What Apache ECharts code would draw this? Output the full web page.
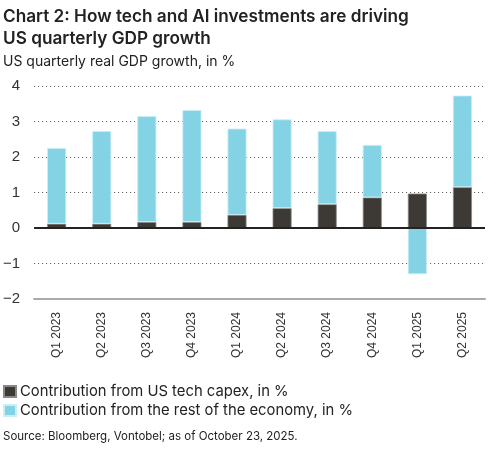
<!DOCTYPE html>
<html>
<head>
<meta charset="utf-8">
<script src="https://cdn.jsdelivr.net/npm/echarts@6/dist/echarts.min.js"></script>
<style>
  html, body { margin: 0; padding: 0; background: #fff; }
  #chart { width: 489px; height: 465px; }
</style>
</head>
<body>
<div id="chart"></div>
<script>
var quarters = ['Q1 2023', 'Q2 2023', 'Q3 2023', 'Q4 2023', 'Q1 2024', 'Q2 2024', 'Q3 2024', 'Q4 2024', 'Q1 2025', 'Q2 2025'];
var techCapex = [0.12, 0.12, 0.17, 0.17, 0.37, 0.56, 0.67, 0.86, 0.97, 1.15];
var restOfEconomy = [2.13, 2.61, 2.98, 3.15, 2.43, 2.50, 2.06, 1.48, -1.30, 2.58];
var yTicks = [-2, -1, 0, 1, 2, 3, 4];

var chart = echarts.init(document.getElementById('chart'));

var textFont = 'Liberation Sans';

var option = {
    animation: false,
    title: [{
        text: 'Chart 2: How tech and AI investments are driving\nUS quarterly GDP growth',
        left: -2,
        top: 1,
        textStyle: { fontFamily: 'Inter', fontWeight: 600, fontSize: 17.2, lineHeight: 22, color: '#222' }
    }, {
        text: 'US quarterly real GDP growth, in %',
        left: -2,
        top: 50,
        textStyle: { fontFamily: 'Inter', fontWeight: 400, fontSize: 14, color: '#222' }
    }, {
        text: 'Source: Bloomberg, Vontobel; as of October 23, 2025.',
        left: -2,
        top: 426,
        textStyle: { fontFamily: 'Inter', fontWeight: 400, fontSize: 11.5, color: '#222' }
    }],
    legend: {
        orient: 'vertical',
        left: -2,
        top: 379,
        itemWidth: 12,
        itemHeight: 11,
        itemGap: 4,
        icon: 'rect',
        textStyle: { fontFamily: 'Inter', fontSize: 14.8, color: '#222', padding: [0, 0, 0, -1] },
        data: ['Contribution from US tech capex, in %', 'Contribution from the rest of the economy, in %']
    },
    grid: { left: 32, right: 4, top: 86, bottom: 166 },
    xAxis: {
        type: 'category',
        data: quarters,
        axisLine: { onZero: false, lineStyle: { color: '#aaa', width: 2 } },
        axisTick: { show: false },
        axisLabel: { rotate: 90, margin: 13, fontFamily: textFont, fontSize: 12, color: '#333' }
    },
    yAxis: {
        type: 'value',
        min: yTicks[0],
        max: yTicks[yTicks.length - 1],
        interval: 1,
        axisLine: { show: false },
        axisTick: { show: false },
        axisLabel: {
            margin: 14, fontFamily: textFont, fontSize: 15, color: '#333',
            formatter: function (v) { return v < 0 ? '\u2212' + Math.abs(v) : String(v); }
        },
        splitLine: { lineStyle: { color: '#555', type: [1, 3], width: 1 } }
    },
    series: [{
        name: 'Contribution from US tech capex, in %',
        type: 'bar',
        stack: 'gdp',
        barWidth: 19,
        itemStyle: { color: '#3d3a35', borderColor: '#8a8884', borderWidth: 0.8 },
        data: techCapex,
        markLine: {
            silent: true,
            symbol: ['none', 'none'],
            label: { show: false },
            lineStyle: { color: '#222', type: 'solid', width: 2 },
            data: [{ yAxis: 0 }]
        }
    }, {
        name: 'Contribution from the rest of the economy, in %',
        type: 'bar',
        stack: 'gdp',
        barWidth: 19,
        itemStyle: { color: '#84d3e5', borderColor: '#c9eef6', borderWidth: 0.8 },
        data: restOfEconomy
    }]
};

chart.setOption(option);
</script>
</body>
</html>
